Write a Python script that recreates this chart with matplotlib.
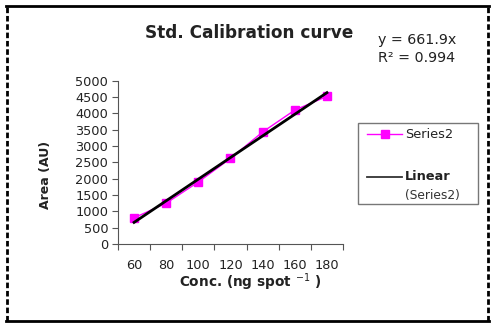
import matplotlib.pyplot as plt
from matplotlib.lines import Line2D
from matplotlib.patches import Rectangle

plt.rcParams['font.family'] = ['DejaVu Sans']

conc = [60, 80, 100, 120, 140, 160, 180]
area = [800, 1250, 1900, 2620, 3430, 4100, 4520]
slope = 661.9
r2 = 0.994

W, H = 496, 327
fig = plt.figure(figsize=(W / 100, H / 100), dpi=100)
ax = fig.add_axes([0.2379, 0.2538, 0.4536, 0.4994])


def fx(px):
    return px / W


def fy(py):
    return 1 - py / H


# category positions like a spreadsheet line chart
pos = list(range(1, len(conc) + 1))
ax.plot(pos, area, color='#ff00ff', lw=1, marker='s', ms=6)
fit = [slope * p for p in pos]
ax.plot(pos, fit, color='black', lw=2)

ax.set_xlim(0.5, len(conc) + 0.5)
ax.set_ylim(0, 5000)
ax.set_yticks(range(0, 5001, 500))
ax.set_xticks([p - 0.5 for p in pos] + [len(conc) + 0.5])
ax.set_xticklabels([])
ax.set_xticks(pos, minor=True)
ax.set_xticklabels([str(c) for c in conc], minor=True)
ax.tick_params(axis='x', which='minor', length=0, pad=11, labelsize=9.3,
               labelcolor='#222222')
ax.tick_params(axis='x', which='major', length=4, width=0.8, color='#555555')
ax.tick_params(axis='y', length=4, width=0.8, color='#555555', labelsize=9.3,
               pad=3, labelcolor='#222222')
for s in ['top', 'right']:
    ax.spines[s].set_visible(False)
for s in ['left', 'bottom']:
    ax.spines[s].set_color('#555555')
    ax.spines[s].set_linewidth(0.8)

fig.text(fx(45), fy(175), 'Area (AU)', rotation=90, ha='center',
         va='center', fontsize=9, fontweight='bold', color='#222222')
fig.text(fx(250), fy(282), 'Conc. (ng spot $^{-1}$ )', ha='center',
         va='center', fontsize=9.8, fontweight='bold', color='#222222')

fig.text(fx(249), fy(33), 'Std. Calibration curve', ha='center',
         va='center', fontsize=12.2, fontweight='bold', color='#222222')
fig.text(fx(378), fy(40), f'y = {slope}x', ha='left', va='center',
         fontsize=10.3, color='#222222')
fig.text(fx(378), fy(58), f'R² = {r2}', ha='left', va='center',
         fontsize=10.3, color='#222222')

# legend box drawn by hand so the trendline label wraps under its sample
fig.add_artist(Rectangle((fx(358), fy(204)), fx(478) - fx(358),
                         fy(123) - fy(204), transform=fig.transFigure,
                         fill=False, edgecolor='#777777', lw=1))
fig.add_artist(Line2D([fx(367), fx(402)], [fy(134), fy(134)],
                      transform=fig.transFigure, color='#ff00ff', lw=1))
fig.add_artist(Line2D([fx(384.5)], [fy(134)], transform=fig.transFigure,
                      color='#ff00ff', marker='s', ms=6))
fig.add_artist(Line2D([fx(367), fx(402)], [fy(177), fy(177)],
                      transform=fig.transFigure, color='#333333', lw=1.3))
fig.text(fx(405), fy(134), 'Series2', ha='left', va='center', fontsize=9.3,
         color='#222222')
fig.text(fx(405), fy(177), 'Linear', ha='left', va='center', fontsize=9.3,
         fontweight='bold', color='#222222')
fig.text(fx(405), fy(195), '(Series2)', ha='left', va='center', fontsize=8.8,
         color='#333333')

# outer frame
fig.add_artist(Line2D([0.013, 0.985], [0.982, 0.982], transform=fig.transFigure,
                      color='black', lw=2))
fig.add_artist(Line2D([0.013, 0.985], [0.018, 0.018], transform=fig.transFigure,
                      color='black', lw=2))
fig.add_artist(Line2D([0.014, 0.014], [0.018, 0.982], transform=fig.transFigure,
                      color='black', lw=2, ls=(0, (2, 1))))
fig.add_artist(Line2D([0.983, 0.983], [0.018, 0.982], transform=fig.transFigure,
                      color='black', lw=2, ls=(0, (2, 1))))

fig.savefig('out.png', dpi=100)
